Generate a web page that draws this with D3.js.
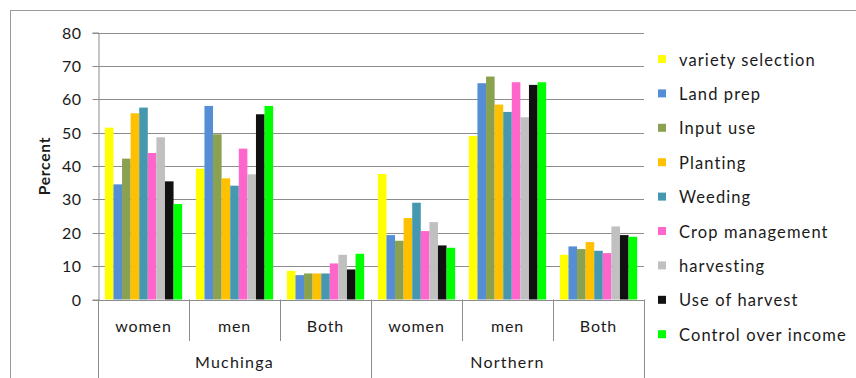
<!DOCTYPE html>
<html>
<head>
<meta charset="utf-8">
<script src="https://cdn.jsdelivr.net/npm/d3@7"></script>
<style>
  html, body { margin: 0; padding: 0; background: #fff; }
  svg { display: block; font-family: Lato, "Open Sans", sans-serif; }
</style>
</head>
<body>
<svg id="chart" width="856" height="378"></svg>
<script>
// Regions and respondent groups on the two-level category axis
const regions = ["Muchinga", "Northern"];
const groups = ["women", "men", "Both"];

// Decision areas (one bar each per group)
const activities = [
  "variety selection", "Land prep", "Input use", "Planting", "Weeding",
  "Crop management", "harvesting", "Use of harvest", "Control over income"
];
const colors = [
  "#ffff00", "#558ed5", "#8aa14f", "#ffc000", "#4598b0",
  "#ff66cc", "#c0c0c0", "#111111", "#00ff00"
];

// Percent of respondents, one array per region/group, in activity order
const muchingaWomen = [51.5, 34.5, 42.2, 55.8, 57.5, 43.9, 48.6, 35.4, 28.6];
const muchingaMen   = [39.2, 58.0, 49.5, 36.3, 34.1, 45.2, 37.5, 55.5, 58.0];
const muchingaBoth  = [8.6, 7.3, 7.8, 7.8, 7.8, 10.8, 13.4, 9.0, 13.7];
const northernWomen = [37.6, 19.3, 17.6, 24.4, 29.0, 20.5, 23.2, 16.2, 15.5];
const northernMen   = [49.0, 64.8, 66.8, 58.4, 56.2, 65.1, 54.6, 64.3, 65.1];
const northernBoth  = [13.4, 15.9, 15.1, 17.2, 14.6, 13.9, 21.9, 19.3, 18.8];

const yTicks = [0, 10, 20, 30, 40, 50, 60, 70, 80];

const rows = [
  { region: "Muchinga", group: "women", values: muchingaWomen },
  { region: "Muchinga", group: "men",   values: muchingaMen },
  { region: "Muchinga", group: "Both",  values: muchingaBoth },
  { region: "Northern", group: "women", values: northernWomen },
  { region: "Northern", group: "men",   values: northernMen },
  { region: "Northern", group: "Both",  values: northernBoth }
].map(d => ({ ...d, key: d.region + "|" + d.group }));

const svg = d3.select("#chart");
const plot = { left: 98, right: 644, top: 32.5, bottom: 299.5 };
const axisColor = "#8c8c8c";
const textColor = "#1a1a1a";
const labelFont = { size: "16px", spacing: "0.9px" };

// Chart area frame
svg.append("rect")
  .attr("x", 10.5).attr("y", 10.5)
  .attr("width", 900).attr("height", 400)
  .attr("fill", "none").attr("stroke", "#9a9a9a");

const x = d3.scaleBand()
  .domain(rows.map(d => d.key))
  .range([plot.left, plot.right])
  .padding(0);

const xInner = d3.scaleBand()
  .domain(activities)
  .range([0, x.bandwidth()])
  .paddingInner(0)
  .paddingOuter(0.8);

const y = d3.scaleLinear().domain([0, 80]).range([plot.bottom, plot.top]);

// Horizontal gridlines
svg.append("g")
  .selectAll("line")
  .data(yTicks.filter(t => t > 0))
  .join("line")
  .attr("x1", plot.left).attr("x2", plot.right)
  .attr("y1", d => Math.round(y(d)) + 0.5).attr("y2", d => Math.round(y(d)) + 0.5)
  .attr("stroke", axisColor);

// Y axis
const yAxis = svg.append("g")
  .attr("transform", `translate(${plot.left + 0.5},0)`)
  .call(d3.axisLeft(y).tickValues(yTicks).tickSize(6).tickPadding(11)
    .tickFormat(d3.format("d")));
yAxis.select(".domain").attr("stroke", axisColor);
yAxis.selectAll(".tick line").attr("stroke", axisColor);
yAxis.selectAll(".tick").attr("transform", d => `translate(0,${Math.round(y(d)) + 0.5})`);
yAxis.selectAll("text")
  .attr("fill", textColor)
  .style("font-size", labelFont.size)
  .style("letter-spacing", "0.5px")
  .style("font-family", "Lato, sans-serif");

// Extend the y axis line down through the category label area
svg.append("line")
  .attr("x1", plot.left + 0.5).attr("x2", plot.left + 0.5)
  .attr("y1", plot.bottom).attr("y2", 378)
  .attr("stroke", axisColor);

// Y axis title
svg.append("text")
  .attr("transform", `translate(50,${(plot.top + plot.bottom) / 2}) rotate(-90)`)
  .attr("text-anchor", "middle")
  .attr("fill", textColor)
  .style("font-size", "15.5px")
  .style("letter-spacing", "0.8px")
  .style("font-weight", "bold")
  .text("Percent");

// Bars
const groupSel = svg.append("g")
  .selectAll("g")
  .data(rows)
  .join("g")
  .attr("transform", d => `translate(${x(d.key)},0)`);

groupSel.selectAll("rect")
  .data(d => d.values.map((v, i) => ({ activity: activities[i], value: v, color: colors[i] })))
  .join("rect")
  .attr("x", d => xInner(d.activity))
  .attr("width", xInner.bandwidth())
  .attr("y", d => y(d.value))
  .attr("height", d => y(0) - y(d.value))
  .attr("fill", d => d.color);

// Category axis: baseline, group dividers, region dividers
const xa = svg.append("g");
xa.append("line")
  .attr("x1", plot.left).attr("x2", plot.right + 1)
  .attr("y1", plot.bottom + 1).attr("y2", plot.bottom + 1)
  .attr("stroke", axisColor);

const boundaries = rows.map(d => x(d.key)).concat([plot.right]);
xa.selectAll("line.div")
  .data(boundaries)
  .join("line")
  .attr("class", "div")
  .attr("x1", d => Math.round(d) + 0.5).attr("x2", d => Math.round(d) + 0.5)
  .attr("y1", plot.bottom)
  .attr("y2", (d, i) => (i % 3 === 0 ? 378 : 341))
  .attr("stroke", axisColor);

xa.selectAll("text.grp")
  .data(rows)
  .join("text")
  .attr("class", "grp")
  .attr("x", d => x(d.key) + x.bandwidth() / 2)
  .attr("y", 332)
  .attr("text-anchor", "middle")
  .attr("fill", textColor)
  .style("font-size", labelFont.size)
  .style("letter-spacing", labelFont.spacing)
  .text(d => d.group);

xa.selectAll("text.reg")
  .data(regions)
  .join("text")
  .attr("class", "reg")
  .attr("x", r => {
    const ks = rows.filter(d => d.region === r);
    return (x(ks[0].key) + x(ks[ks.length - 1].key) + x.bandwidth()) / 2;
  })
  .attr("y", 368)
  .attr("text-anchor", "middle")
  .attr("fill", textColor)
  .style("font-size", labelFont.size)
  .style("letter-spacing", "1.2px")
  .text(r => r);

// Legend
const legend = svg.append("g").attr("transform", "translate(658,60)");
const item = legend.selectAll("g")
  .data(activities)
  .join("g")
  .attr("transform", (d, i) => `translate(0,${i * 34.4})`);
item.append("rect")
  .attr("x", 0).attr("y", -5)
  .attr("width", 8).attr("height", 8)
  .attr("fill", (d, i) => colors[i]);
item.append("text")
  .attr("x", 21).attr("y", 5.5)
  .attr("fill", textColor)
  .style("font-size", "16.5px")
  .style("letter-spacing", "1.1px")
  .text(d => d);
</script>
</body>
</html>
